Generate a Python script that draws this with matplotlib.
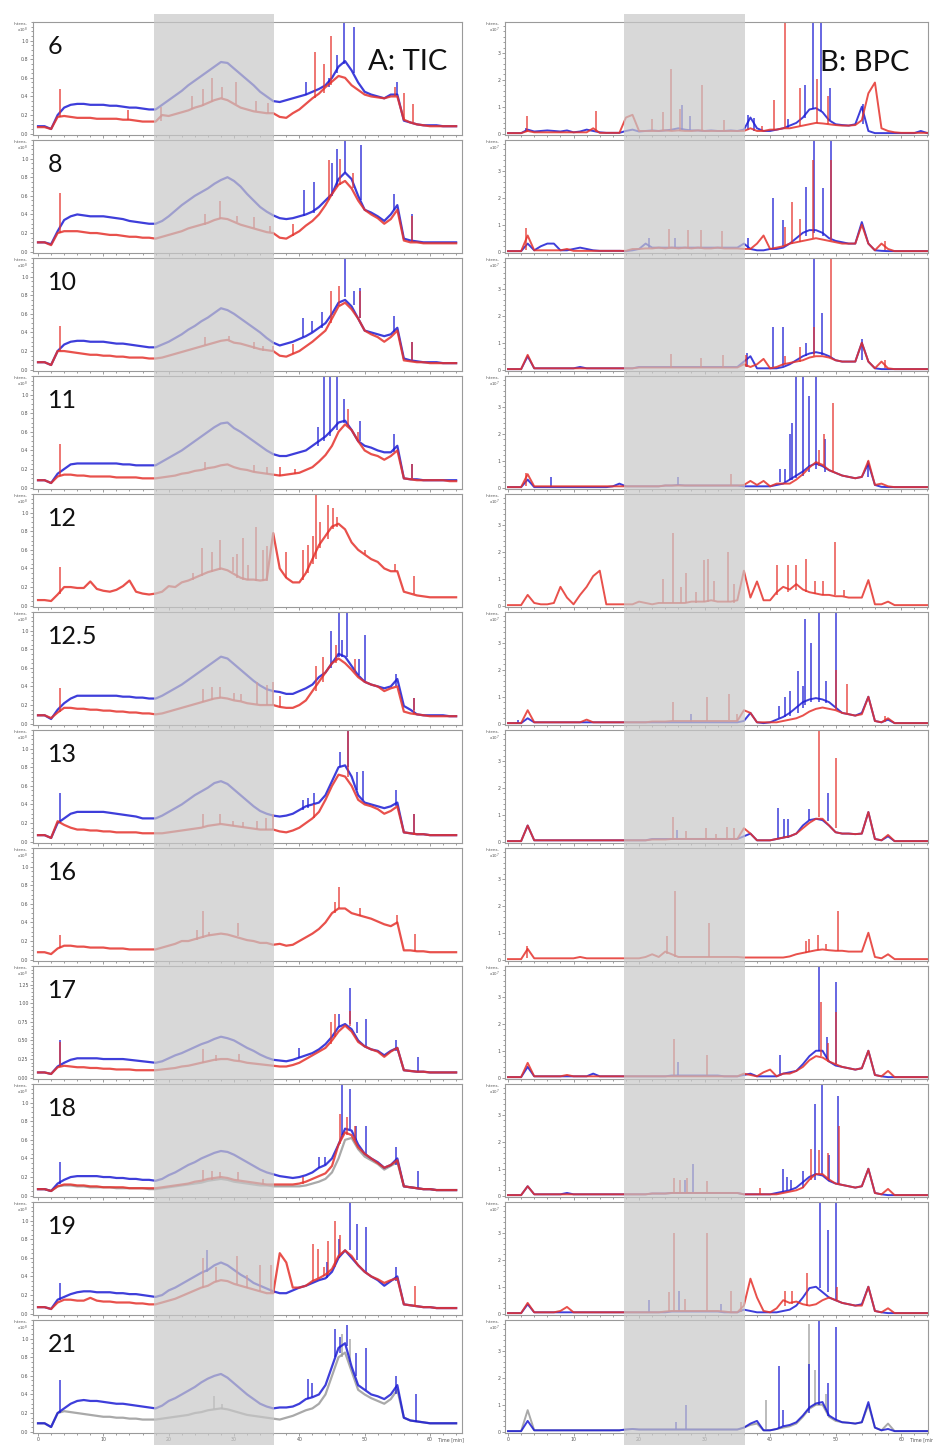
import numpy as np
import matplotlib
matplotlib.use("Agg")
import matplotlib.pyplot as plt
from matplotlib.patches import Rectangle
from matplotlib.ticker import MultipleLocator, FixedLocator, FormatStrFormatter
import matplotlib.transforms as mtransforms

# ---- data: chromatogram baselines on a 1-min grid (0..64 min), peaks as (time, foot, top) ----
# TIC, x10^8
tic6_b = [0.08,0.08,0.05,0.20,0.28,0.31,0.32,0.32,0.31,0.31,
          0.31,0.30,0.30,0.29,0.28,0.28,0.27,0.26,0.26,0.31,
          0.36,0.41,0.46,0.52,0.57,0.62,0.67,0.72,0.77,0.76,
          0.70,0.64,0.58,0.52,0.45,0.40,0.35,0.34,0.36,0.38,
          0.40,0.42,0.45,0.48,0.52,0.60,0.72,0.78,0.68,0.55,
          0.45,0.42,0.40,0.38,0.42,0.42,0.14,0.12,0.10,0.09,
          0.09,0.09,0.08,0.08,0.08]
tic6_r = [0.07,0.07,0.05,0.18,0.19,0.18,0.17,0.17,0.17,0.16,
          0.16,0.16,0.16,0.15,0.15,0.14,0.13,0.13,0.13,0.20,
          0.19,0.21,0.23,0.25,0.28,0.30,0.33,0.36,0.38,0.36,
          0.32,0.28,0.26,0.24,0.23,0.22,0.22,0.18,0.17,0.22,
          0.26,0.32,0.38,0.43,0.50,0.56,0.62,0.60,0.52,0.47,
          0.42,0.40,0.39,0.38,0.40,0.40,0.15,0.12,0.10,0.09,
          0.08,0.08,0.08,0.08,0.08]
tic6_b_pk = [(41.0,0.42,0.56),(44.5,0.50,0.60),(45.8,0.65,0.85),(46.9,0.75,1.2),(48.3,0.65,1.15),(55.0,0.42,0.56)]
tic6_r_pk = [(3.3,0.18,0.48),(13.8,0.15,0.25),(18.8,0.14,0.29),(23.5,0.26,0.40),(25.2,0.30,0.48),(26.6,0.34,0.60),
             (28.2,0.38,0.50),(30.3,0.32,0.55),(33.4,0.24,0.35),(35.2,0.22,0.33),(42.4,0.38,0.88),(43.7,0.44,0.75),
             (44.9,0.52,1.05),(54.6,0.40,0.50),(56.0,0.15,0.44),(57.4,0.12,0.32)]

tic8_b = [0.10,0.10,0.08,0.22,0.34,0.38,0.40,0.39,0.38,0.38,
          0.38,0.37,0.36,0.35,0.33,0.32,0.31,0.30,0.30,0.33,
          0.38,0.44,0.50,0.55,0.60,0.64,0.68,0.73,0.77,0.80,
          0.76,0.70,0.62,0.55,0.48,0.43,0.39,0.36,0.35,0.36,
          0.38,0.40,0.43,0.48,0.55,0.62,0.78,0.85,0.78,0.60,
          0.45,0.42,0.38,0.33,0.40,0.50,0.14,0.12,0.11,0.10,
          0.10,0.10,0.10,0.10,0.10]
tic8_r = [0.10,0.10,0.07,0.20,0.22,0.22,0.22,0.21,0.20,0.20,
          0.19,0.18,0.18,0.17,0.16,0.16,0.15,0.15,0.14,0.16,
          0.18,0.20,0.22,0.25,0.27,0.29,0.31,0.34,0.36,0.35,
          0.32,0.29,0.27,0.25,0.23,0.21,0.20,0.15,0.14,0.18,
          0.22,0.28,0.33,0.40,0.50,0.62,0.72,0.76,0.68,0.55,
          0.45,0.40,0.36,0.30,0.35,0.45,0.12,0.10,0.10,0.09,
          0.09,0.09,0.09,0.09,0.09]
tic8_b_pk = [(40.7,0.38,0.66),(42.2,0.42,0.75),(45.0,0.60,0.95),(45.8,0.70,1.1),(47.0,0.85,1.2),(49.5,0.55,1.15),
             (54.5,0.45,0.62),(57.3,0.11,0.41)]
tic8_r_pk = [(3.4,0.20,0.63),(25.5,0.29,0.40),(27.9,0.35,0.54),(30.5,0.32,0.38),(33.0,0.25,0.37),(35.5,0.21,0.28),
             (39.0,0.17,0.30),(44.6,0.55,0.98),(46.3,0.72,1.0),(48.2,0.68,0.85),(57.3,0.10,0.38)]

tic10_b = [0.08,0.08,0.05,0.20,0.27,0.30,0.31,0.31,0.30,0.30,
           0.30,0.29,0.28,0.28,0.27,0.26,0.25,0.24,0.24,0.27,
           0.30,0.34,0.38,0.43,0.47,0.52,0.56,0.61,0.66,0.64,
           0.60,0.55,0.50,0.45,0.40,0.34,0.29,0.26,0.28,0.30,
           0.33,0.36,0.40,0.45,0.50,0.60,0.72,0.75,0.68,0.55,
           0.42,0.40,0.38,0.36,0.38,0.45,0.12,0.10,0.09,0.08,
           0.08,0.08,0.07,0.07,0.07]
tic10_r = [0.08,0.08,0.05,0.20,0.20,0.19,0.18,0.17,0.16,0.16,
           0.15,0.15,0.14,0.14,0.13,0.13,0.13,0.12,0.12,0.13,
           0.15,0.17,0.19,0.21,0.23,0.25,0.27,0.29,0.31,0.32,
           0.29,0.28,0.26,0.24,0.22,0.21,0.20,0.15,0.14,0.17,
           0.20,0.25,0.30,0.36,0.42,0.55,0.68,0.72,0.65,0.55,
           0.42,0.38,0.35,0.30,0.35,0.42,0.10,0.09,0.08,0.08,
           0.07,0.07,0.07,0.07,0.07]
tic10_b_pk = [(40.5,0.35,0.55),(42.0,0.40,0.52),(43.5,0.45,0.62),(47.0,0.78,1.2),(48.3,0.70,0.85),(49.3,0.55,0.88),
              (54.5,0.40,0.58),(57.3,0.10,0.30)]
tic10_r_pk = [(3.3,0.20,0.47),(25.5,0.26,0.35),(29.2,0.32,0.36),(33.0,0.22,0.30),(34.5,0.20,0.25),(36.0,0.20,0.25),
              (39.0,0.17,0.28),(44.8,0.50,0.85),(46.0,0.68,0.90),(49.3,0.55,0.85),(57.3,0.10,0.30)]

tic11_b = [0.08,0.08,0.05,0.15,0.20,0.25,0.26,0.26,0.26,0.26,
           0.26,0.26,0.26,0.25,0.25,0.24,0.24,0.24,0.24,0.28,
           0.32,0.36,0.40,0.45,0.50,0.55,0.60,0.65,0.69,0.70,
           0.64,0.60,0.55,0.50,0.45,0.40,0.36,0.34,0.34,0.36,
           0.38,0.40,0.45,0.50,0.55,0.62,0.70,0.72,0.62,0.50,
           0.45,0.43,0.40,0.38,0.38,0.45,0.10,0.09,0.09,0.08,
           0.08,0.08,0.08,0.08,0.08]
tic11_r = [0.08,0.08,0.05,0.12,0.14,0.14,0.13,0.13,0.12,0.12,
           0.12,0.12,0.11,0.11,0.11,0.11,0.10,0.10,0.10,0.11,
           0.12,0.13,0.15,0.16,0.18,0.19,0.21,0.22,0.24,0.25,
           0.22,0.20,0.19,0.17,0.16,0.15,0.14,0.13,0.14,0.15,
           0.16,0.19,0.22,0.28,0.35,0.45,0.60,0.68,0.62,0.50,
           0.40,0.36,0.34,0.30,0.34,0.40,0.10,0.09,0.08,0.08,
           0.08,0.08,0.08,0.07,0.07]
tic11_b_pk = [(42.8,0.45,0.65),(43.8,0.50,1.2),(44.7,0.55,1.2),(45.7,0.62,1.2),(46.8,0.70,0.95),(49.3,0.50,0.72),
              (54.5,0.38,0.58),(57.3,0.10,0.25)]
tic11_r_pk = [(3.3,0.12,0.47),(25.5,0.19,0.28),(33.0,0.17,0.24),(35.0,0.15,0.22),(37.0,0.13,0.22),(39.3,0.15,0.20),
              (47.5,0.66,0.85),(49.0,0.50,0.60),(57.3,0.09,0.25)]

tic12_r = [0.06,0.06,0.05,0.12,0.20,0.20,0.19,0.19,0.26,0.18,
           0.16,0.15,0.17,0.21,0.27,0.15,0.13,0.12,0.13,0.15,
           0.21,0.20,0.25,0.27,0.30,0.33,0.36,0.38,0.40,0.38,
           0.34,0.30,0.28,0.28,0.27,0.28,0.78,0.40,0.30,0.25,
           0.25,0.35,0.50,0.65,0.75,0.85,0.88,0.82,0.68,0.60,
           0.55,0.50,0.47,0.40,0.37,0.37,0.15,0.13,0.11,0.10,
           0.09,0.09,0.09,0.09,0.09]
tic12_r_pk = [(3.4,0.12,0.42),(23.7,0.28,0.35),(25.1,0.32,0.62),(26.6,0.36,0.58),(27.9,0.38,0.71),(29.9,0.36,0.52),
              (30.4,0.30,0.55),(31.4,0.28,0.73),(32.2,0.28,0.44),(33.4,0.27,0.85),(34.5,0.26,0.60),(35.0,0.27,0.64),
              (38.0,0.30,0.58),(40.6,0.28,0.60),(41.4,0.35,0.65),(42.1,0.45,0.75),(42.6,0.50,1.19),(43.2,0.62,0.90),
              (44.4,0.72,1.08),(45.2,0.82,1.05),(45.7,0.85,0.95),(50.0,0.55,0.60),(54.6,0.37,0.45),(57.6,0.12,0.32)]

tic125_b = [0.09,0.09,0.05,0.15,0.22,0.27,0.30,0.30,0.30,0.30,
            0.30,0.30,0.30,0.29,0.29,0.28,0.28,0.27,0.27,0.30,
            0.34,0.38,0.42,0.47,0.52,0.57,0.62,0.67,0.72,0.70,
            0.64,0.58,0.52,0.46,0.41,0.37,0.35,0.34,0.32,0.32,
            0.35,0.38,0.42,0.50,0.55,0.65,0.75,0.72,0.62,0.52,
            0.45,0.42,0.40,0.38,0.40,0.48,0.19,0.15,0.10,0.09,
            0.09,0.09,0.09,0.08,0.08]
tic125_r = [0.09,0.09,0.06,0.12,0.17,0.17,0.16,0.16,0.15,0.15,
            0.14,0.14,0.13,0.13,0.12,0.12,0.11,0.11,0.10,0.11,
            0.13,0.15,0.17,0.19,0.21,0.23,0.25,0.27,0.28,0.27,
            0.25,0.24,0.22,0.21,0.20,0.20,0.20,0.18,0.17,0.17,
            0.20,0.25,0.35,0.45,0.55,0.65,0.70,0.65,0.58,0.50,
            0.45,0.42,0.40,0.35,0.38,0.40,0.13,0.11,0.10,0.09,
            0.08,0.08,0.08,0.08,0.08]
tic125_b_pk = [(44.9,0.60,1.0),(46.0,0.72,1.2),(46.6,0.72,0.90),(47.3,0.72,1.2),(49.2,0.52,0.70),(50.0,0.45,0.95),
               (54.8,0.40,0.53),(57.6,0.15,0.28)]
tic125_r_pk = [(3.4,0.12,0.38),(25.3,0.23,0.37),(26.6,0.25,0.39),(27.9,0.28,0.39),(30.0,0.25,0.33),(31.0,0.24,0.32),
               (33.5,0.21,0.45),(35.0,0.20,0.42),(36.0,0.20,0.45),(37.0,0.18,0.30),(42.6,0.35,0.62),(43.6,0.45,0.72),
               (45.6,0.65,0.85),(48.5,0.55,0.70),(57.6,0.10,0.28)]

tic13_b = [0.07,0.07,0.04,0.20,0.25,0.30,0.32,0.32,0.32,0.32,
           0.32,0.31,0.30,0.29,0.28,0.27,0.25,0.25,0.25,0.28,
           0.32,0.36,0.40,0.45,0.50,0.54,0.58,0.63,0.65,0.62,
           0.56,0.50,0.44,0.38,0.33,0.30,0.28,0.27,0.28,0.30,
           0.34,0.38,0.40,0.42,0.50,0.65,0.80,0.82,0.70,0.50,
           0.42,0.40,0.38,0.36,0.38,0.42,0.10,0.09,0.08,0.08,
           0.07,0.07,0.07,0.07,0.07]
tic13_r = [0.07,0.07,0.04,0.22,0.18,0.15,0.13,0.13,0.12,0.12,
           0.11,0.11,0.10,0.10,0.10,0.10,0.09,0.09,0.09,0.09,
           0.10,0.11,0.12,0.13,0.14,0.15,0.17,0.18,0.19,0.18,
           0.17,0.16,0.15,0.14,0.13,0.13,0.13,0.11,0.10,0.12,
           0.15,0.20,0.25,0.32,0.45,0.60,0.72,0.70,0.60,0.45,
           0.40,0.38,0.35,0.30,0.33,0.38,0.10,0.09,0.08,0.08,
           0.07,0.07,0.07,0.07,0.07]
tic13_b_pk = [(3.3,0.20,0.52),(40.5,0.34,0.45),(41.3,0.36,0.47),(42.3,0.40,0.52),(46.3,0.80,0.96),(47.4,0.80,1.2),
              (48.9,0.55,0.75),(49.8,0.45,0.76),(54.8,0.38,0.55),(57.6,0.08,0.30)]
tic13_r_pk = [(25.2,0.16,0.30),(27.9,0.19,0.30),(29.8,0.17,0.22),(31.4,0.16,0.21),(33.5,0.14,0.22),(34.9,0.13,0.25),
              (35.9,0.13,0.30),(42.3,0.25,0.40),(47.4,0.70,1.2),(57.6,0.07,0.30)]

tic16_r = [0.08,0.08,0.06,0.12,0.15,0.15,0.14,0.14,0.13,0.13,
           0.13,0.12,0.12,0.12,0.11,0.11,0.11,0.11,0.11,0.13,
           0.15,0.17,0.20,0.20,0.22,0.24,0.26,0.27,0.28,0.27,
           0.25,0.23,0.21,0.20,0.18,0.18,0.16,0.17,0.15,0.16,
           0.20,0.24,0.28,0.33,0.40,0.50,0.55,0.55,0.50,0.48,
           0.46,0.44,0.41,0.38,0.36,0.40,0.10,0.10,0.09,0.09,
           0.08,0.08,0.08,0.08,0.08]
tic16_r_pk = [(3.3,0.12,0.27),(24.3,0.21,0.32),(25.2,0.23,0.52),(26.2,0.25,0.30),(30.6,0.25,0.39),(45.4,0.50,0.62),
              (46.1,0.55,0.78),(49.3,0.47,0.55),(55.0,0.38,0.48),(57.7,0.09,0.28)]

tic17_b = [0.07,0.07,0.05,0.15,0.20,0.24,0.26,0.26,0.26,0.26,
           0.25,0.25,0.25,0.25,0.24,0.23,0.22,0.21,0.20,0.22,
           0.26,0.30,0.33,0.37,0.41,0.45,0.48,0.52,0.55,0.53,
           0.50,0.45,0.40,0.36,0.31,0.27,0.24,0.23,0.22,0.24,
           0.27,0.30,0.33,0.38,0.45,0.55,0.68,0.72,0.65,0.50,
           0.42,0.38,0.36,0.30,0.36,0.40,0.10,0.09,0.08,0.08,
           0.07,0.07,0.07,0.07,0.07]
tic17_r = [0.07,0.07,0.05,0.14,0.16,0.15,0.14,0.14,0.13,0.13,
           0.12,0.12,0.11,0.11,0.11,0.10,0.10,0.10,0.10,0.11,
           0.12,0.13,0.15,0.16,0.18,0.20,0.22,0.24,0.25,0.25,
           0.23,0.22,0.20,0.19,0.18,0.17,0.16,0.15,0.15,0.17,
           0.20,0.25,0.30,0.35,0.40,0.50,0.62,0.70,0.62,0.48,
           0.42,0.38,0.35,0.28,0.35,0.40,0.10,0.09,0.08,0.08,
           0.07,0.07,0.07,0.07,0.07]
tic17_b_pk = [(3.3,0.15,0.50),(40.0,0.27,0.40),(46.0,0.68,0.85),(47.7,0.72,1.21),(48.8,0.60,0.75),(50.2,0.42,0.79),
              (54.8,0.36,0.50),(58.2,0.08,0.28)]
tic17_r_pk = [(3.4,0.14,0.48),(25.3,0.20,0.38),(27.3,0.23,0.30),(30.7,0.23,0.32),(44.8,0.45,0.75),(45.5,0.55,0.85),
              (47.8,0.70,0.90)]

tic18_b = [0.07,0.07,0.05,0.13,0.17,0.20,0.21,0.21,0.21,0.21,
           0.20,0.20,0.19,0.19,0.18,0.18,0.17,0.17,0.16,0.18,
           0.22,0.25,0.29,0.33,0.36,0.40,0.43,0.46,0.48,0.47,
           0.44,0.40,0.36,0.32,0.28,0.25,0.23,0.21,0.20,0.19,
           0.20,0.22,0.25,0.30,0.33,0.40,0.55,0.72,0.70,0.55,
           0.45,0.40,0.36,0.30,0.33,0.40,0.10,0.09,0.08,0.07,
           0.07,0.06,0.06,0.06,0.06]
tic18_r = [0.07,0.07,0.05,0.10,0.12,0.12,0.11,0.11,0.10,0.10,
           0.09,0.09,0.09,0.09,0.08,0.08,0.08,0.08,0.08,0.09,
           0.10,0.11,0.12,0.13,0.15,0.16,0.18,0.19,0.20,0.19,
           0.17,0.16,0.15,0.14,0.13,0.12,0.12,0.12,0.12,0.12,
           0.13,0.15,0.18,0.21,0.24,0.32,0.55,0.68,0.65,0.52,
           0.45,0.40,0.35,0.30,0.33,0.38,0.10,0.09,0.08,0.07,
           0.07,0.06,0.06,0.06,0.06]
tic18_g = [0.07,0.07,0.05,0.10,0.11,0.11,0.10,0.10,0.09,0.09,
           0.09,0.09,0.08,0.08,0.08,0.08,0.08,0.07,0.07,0.08,
           0.09,0.10,0.11,0.12,0.13,0.14,0.16,0.17,0.18,0.17,
           0.15,0.14,0.13,0.12,0.11,0.11,0.10,0.10,0.10,0.10,
           0.10,0.11,0.13,0.15,0.18,0.25,0.40,0.60,0.62,0.50,
           0.42,0.38,0.34,0.28,0.32,0.36,0.10,0.09,0.08,0.07,
           0.07,0.06,0.06,0.06,0.06]
tic18_b_pk = [(3.3,0.13,0.36),(43.0,0.30,0.42),(44.0,0.33,0.42),(46.6,0.65,1.2),(47.7,0.72,1.15),(48.7,0.60,0.75),
              (50.2,0.45,0.75),(54.8,0.33,0.52),(58.2,0.07,0.27)]
tic18_r_pk = [(25.3,0.16,0.28),(26.6,0.17,0.26),(27.9,0.19,0.25),(30.6,0.17,0.25),(34.5,0.13,0.18),(40.5,0.13,0.20),
              (46.3,0.55,0.88),(47.3,0.65,0.85),(48.5,0.60,0.75)]
tic18_g_pk = []

tic19_b = [0.07,0.07,0.05,0.15,0.18,0.21,0.23,0.24,0.24,0.23,
           0.23,0.23,0.22,0.22,0.21,0.21,0.20,0.19,0.18,0.20,
           0.25,0.28,0.32,0.36,0.40,0.44,0.47,0.52,0.55,0.52,
           0.47,0.42,0.38,0.33,0.30,0.27,0.24,0.22,0.22,0.25,
           0.28,0.30,0.33,0.36,0.38,0.45,0.60,0.68,0.60,0.52,
           0.45,0.40,0.36,0.30,0.35,0.40,0.10,0.09,0.08,0.07,
           0.07,0.06,0.06,0.06,0.06]
tic19_r = [0.07,0.07,0.05,0.12,0.15,0.15,0.14,0.14,0.17,0.14,
           0.13,0.13,0.12,0.12,0.12,0.11,0.11,0.10,0.10,0.12,
           0.14,0.16,0.19,0.22,0.25,0.28,0.30,0.34,0.36,0.35,
           0.32,0.30,0.28,0.26,0.24,0.22,0.22,0.65,0.55,0.28,
           0.28,0.30,0.35,0.38,0.42,0.48,0.62,0.68,0.62,0.52,
           0.45,0.40,0.37,0.33,0.36,0.38,0.10,0.09,0.08,0.07,
           0.07,0.06,0.06,0.06,0.06]
tic19_b_pk = [(3.3,0.15,0.33),(25.8,0.45,0.68),(44.3,0.38,0.55),(46.0,0.60,0.80),(47.7,0.68,1.2),(48.9,0.58,0.96),
              (50.2,0.45,0.93),(54.8,0.35,0.50)]
tic19_r_pk = [(25.3,0.28,0.60),(27.2,0.34,0.50),(30.4,0.32,0.62),(32.0,0.28,0.42),(34.0,0.24,0.52),(35.6,0.22,0.52),
              (42.1,0.35,0.75),(42.9,0.38,0.70),(43.7,0.40,0.50),(44.4,0.42,0.78),(45.5,0.50,1.0),(46.2,0.62,0.85),
              (57.7,0.08,0.30)]

tic21_b = [0.09,0.09,0.05,0.20,0.25,0.30,0.33,0.34,0.33,0.33,
           0.32,0.31,0.30,0.30,0.29,0.28,0.27,0.26,0.25,0.28,
           0.33,0.36,0.40,0.44,0.48,0.53,0.57,0.60,0.62,0.58,
           0.52,0.46,0.40,0.35,0.30,0.27,0.25,0.26,0.26,0.27,
           0.30,0.35,0.37,0.40,0.50,0.70,0.90,0.95,0.70,0.50,
           0.45,0.40,0.38,0.35,0.40,0.50,0.15,0.12,0.11,0.10,
           0.09,0.09,0.09,0.09,0.09]
tic21_g = [0.09,0.09,0.05,0.20,0.22,0.21,0.20,0.19,0.18,0.17,
           0.16,0.16,0.15,0.15,0.14,0.14,0.13,0.13,0.13,0.14,
           0.15,0.16,0.17,0.18,0.20,0.21,0.23,0.24,0.25,0.24,
           0.22,0.20,0.18,0.17,0.16,0.15,0.14,0.13,0.15,0.17,
           0.20,0.23,0.25,0.30,0.40,0.60,0.80,0.85,0.65,0.45,
           0.40,0.36,0.33,0.30,0.35,0.45,0.15,0.12,0.11,0.10,
           0.09,0.09,0.09,0.09,0.09]
tic21_b_pk = [(3.4,0.20,0.55),(41.3,0.35,0.57),(42.0,0.37,0.52),(45.5,0.80,1.1),(46.2,0.85,1.02),(47.3,0.92,1.15),
              (48.7,0.60,0.85),(50.2,0.45,0.90),(54.8,0.40,0.60),(57.8,0.10,0.40)]
tic21_g_pk = [(26.9,0.24,0.38),(28.2,0.24,0.30),(46.5,0.80,1.05),(47.8,0.75,1.0)]

# BPC, x10^7
bpc6_b = [0.02,0.02,0.02,0.15,0.08,0.10,0.12,0.10,0.08,0.12,
          0.05,0.08,0.15,0.10,0.05,0.03,0.03,0.03,0.10,0.15,
          0.08,0.10,0.12,0.10,0.12,0.15,0.20,0.15,0.12,0.12,
          0.10,0.12,0.10,0.10,0.12,0.10,0.15,0.60,0.20,0.10,
          0.10,0.15,0.20,0.30,0.40,0.60,0.90,0.95,0.80,0.50,
          0.35,0.32,0.30,0.35,1.00,0.10,0.02,0.02,0.02,0.02,
          0.02,0.02,0.02,0.10,0.02]
bpc6_r = [0.02,0.02,0.02,0.10,0.05,0.05,0.05,0.05,0.05,0.05,
          0.05,0.05,0.05,0.20,0.03,0.03,0.03,0.03,0.60,0.70,
          0.10,0.10,0.10,0.10,0.12,0.10,0.12,0.10,0.10,0.12,
          0.10,0.10,0.10,0.10,0.10,0.10,0.10,0.20,0.10,0.10,
          0.15,0.15,0.20,0.20,0.25,0.30,0.35,0.40,0.38,0.35,
          0.32,0.30,0.30,0.32,0.50,1.50,1.90,0.20,0.10,0.05,
          0.03,0.03,0.03,0.03,0.03]
bpc6_b_pk = [(2.8,0.05,0.20),(26.6,0.15,1.05),(27.7,0.12,0.65),(36.6,0.15,0.70),(37.5,0.10,0.60),(42.8,0.20,0.55),
             (45.3,0.60,1.8),(46.6,0.90,4.2),(47.8,0.85,4.2),(49.1,0.50,1.7),(54.2,0.35,1.1)]
bpc6_r_pk = [(2.9,0.05,0.64),(13.4,0.05,0.86),(22.0,0.10,0.55),(23.6,0.10,0.80),(24.8,0.10,2.4),(26.3,0.10,0.90),
             (29.6,0.10,1.8),(33.0,0.10,0.50),(38.8,0.10,0.30),(40.6,0.15,1.25),(42.3,0.20,4.2),(44.5,0.30,1.7),
             (47.1,0.40,2.05),(48.8,0.35,1.4)]

bpc8_b = [0.02,0.02,0.02,0.30,0.05,0.20,0.30,0.30,0.05,0.05,
          0.10,0.15,0.10,0.05,0.03,0.03,0.03,0.03,0.02,0.05,
          0.10,0.30,0.15,0.15,0.15,0.15,0.15,0.15,0.15,0.15,
          0.15,0.15,0.15,0.15,0.15,0.15,0.30,0.10,0.05,0.05,
          0.10,0.10,0.15,0.30,0.50,0.70,0.80,0.80,0.70,0.50,
          0.40,0.35,0.30,0.30,1.10,0.30,0.05,0.03,0.02,0.02,
          0.02,0.02,0.02,0.02,0.02]
bpc8_r = [0.02,0.02,0.02,0.60,0.05,0.05,0.05,0.05,0.05,0.10,
          0.03,0.03,0.03,0.03,0.03,0.03,0.03,0.03,0.03,0.10,
          0.10,0.12,0.12,0.15,0.12,0.15,0.12,0.15,0.12,0.15,
          0.12,0.12,0.15,0.12,0.12,0.12,0.10,0.10,0.30,0.60,
          0.10,0.15,0.20,0.30,0.35,0.40,0.45,0.50,0.45,0.40,
          0.35,0.30,0.30,0.30,1.00,0.30,0.05,0.30,0.10,0.02,
          0.02,0.02,0.02,0.02,0.02]
bpc8_b_pk = [(21.5,0.15,0.50),(25.5,0.15,0.50),(36.6,0.10,0.50),(40.5,0.10,1.98),(41.9,0.20,1.16),(45.5,0.60,2.4),
             (46.7,0.70,4.2),(48.0,0.60,2.35),(49.3,0.50,4.2)]
bpc8_r_pk = [(2.8,0.05,0.87),(24.6,0.15,0.85),(27.5,0.15,0.80),(29.4,0.15,0.80),(32.7,0.15,0.75),(42.3,0.20,0.90),
             (43.3,0.30,1.85),(44.5,0.35,1.2),(46.6,0.50,3.4),(49.3,0.40,3.4),(57.6,0.05,0.40)]

bpc10_b = [0.02,0.02,0.02,0.50,0.05,0.05,0.05,0.05,0.05,0.05,
           0.05,0.10,0.05,0.05,0.05,0.05,0.05,0.05,0.05,0.05,
           0.10,0.10,0.10,0.10,0.10,0.10,0.10,0.10,0.10,0.10,
           0.10,0.10,0.10,0.10,0.10,0.10,0.30,0.50,0.05,0.05,
           0.05,0.05,0.10,0.20,0.35,0.50,0.60,0.65,0.60,0.50,
           0.35,0.30,0.30,0.30,1.00,0.30,0.05,0.02,0.02,0.02,
           0.02,0.02,0.02,0.02,0.02]
bpc10_r = [0.02,0.02,0.02,0.55,0.05,0.05,0.05,0.05,0.05,0.05,
           0.05,0.05,0.05,0.05,0.05,0.05,0.05,0.05,0.05,0.05,
           0.08,0.08,0.08,0.08,0.08,0.08,0.08,0.08,0.08,0.08,
           0.08,0.08,0.08,0.08,0.08,0.08,0.20,0.10,0.20,0.40,
           0.05,0.10,0.20,0.25,0.30,0.35,0.45,0.50,0.50,0.45,
           0.35,0.30,0.30,0.30,1.00,0.30,0.05,0.30,0.05,0.02,
           0.02,0.02,0.02,0.02,0.02]
bpc10_b_pk = [(36.5,0.10,0.62),(40.5,0.10,1.6),(41.9,0.15,1.6),(45.5,0.50,1.0),(46.7,0.60,4.2),(47.9,0.55,2.1),
              (54.1,0.35,1.15)]
bpc10_r_pk = [(24.8,0.08,0.60),(29.4,0.08,0.45),(32.8,0.08,0.55),(36.3,0.10,0.55),(42.3,0.20,0.50),(44.5,0.30,0.85),
              (46.7,0.50,1.6),(49.3,0.45,4.2),(57.6,0.05,0.35)]

bpc11_b = [0.02,0.02,0.02,0.30,0.02,0.02,0.02,0.02,0.02,0.02,
           0.02,0.02,0.02,0.02,0.02,0.02,0.05,0.15,0.05,0.05,
           0.05,0.05,0.05,0.05,0.08,0.08,0.10,0.08,0.08,0.08,
           0.08,0.08,0.08,0.08,0.08,0.08,0.05,0.05,0.05,0.05,
           0.05,0.10,0.15,0.30,0.45,0.60,0.80,0.90,0.80,0.65,
           0.55,0.45,0.40,0.35,0.40,0.90,0.10,0.03,0.02,0.02,
           0.02,0.02,0.02,0.02,0.02]
bpc11_r = [0.02,0.02,0.02,0.50,0.05,0.05,0.05,0.05,0.05,0.05,
           0.05,0.05,0.05,0.05,0.05,0.05,0.05,0.05,0.05,0.05,
           0.05,0.05,0.05,0.05,0.08,0.08,0.08,0.08,0.08,0.08,
           0.08,0.08,0.08,0.08,0.08,0.08,0.10,0.25,0.10,0.25,
           0.05,0.15,0.15,0.15,0.30,0.50,0.75,0.95,0.85,0.65,
           0.55,0.45,0.40,0.35,0.40,1.00,0.10,0.15,0.05,0.02,
           0.02,0.02,0.02,0.02,0.02]
bpc11_b_pk = [(6.6,0.02,0.41),(26.0,0.10,0.40),(41.5,0.20,0.70),(42.3,0.20,0.70),(43.1,0.30,2.0),(43.4,0.30,2.4),
              (44.0,0.35,4.2),(45.0,0.45,4.2),(46.0,0.60,3.4),(47.0,0.70,4.2),(48.4,0.60,1.8),(55.0,0.40,1.0)]
bpc11_r_pk = [(2.8,0.05,0.54),(34.0,0.05,0.50),(47.5,0.80,1.4),(48.2,0.80,2.0),(49.6,0.60,3.16)]

bpc12_r = [0.02,0.02,0.02,0.40,0.10,0.05,0.05,0.10,0.70,0.30,
           0.05,0.40,0.70,1.10,1.30,0.05,0.05,0.05,0.05,0.05,
           0.15,0.10,0.05,0.10,0.10,0.10,0.10,0.10,0.15,0.15,
           0.15,0.20,0.15,0.15,0.15,0.20,1.30,0.30,0.90,0.20,
           0.20,0.50,0.70,0.60,0.80,0.60,0.50,0.45,0.40,0.40,
           0.35,0.35,0.30,0.30,0.30,0.95,0.05,0.05,0.15,0.02,
           0.02,0.02,0.02,0.02,0.02]
bpc12_r_pk = [(23.7,0.10,1.0),(25.2,0.10,2.7),(26.4,0.10,0.70),(27.1,0.10,1.2),(28.7,0.10,0.50),(29.9,0.15,1.7),
              (30.5,0.15,1.75),(31.4,0.20,0.90),(33.6,0.15,2.0),(34.5,0.10,0.80),(41.0,0.40,1.5),(42.7,0.50,1.5),
              (44.0,0.60,1.5),(45.5,0.50,1.75),(46.8,0.45,0.90),(48.0,0.40,0.90),(49.9,0.40,2.38),(51.3,0.35,0.60)]

bpc125_b = [0.02,0.02,0.02,0.20,0.05,0.05,0.05,0.05,0.05,0.05,
            0.05,0.05,0.05,0.05,0.05,0.05,0.05,0.05,0.05,0.05,
            0.05,0.05,0.05,0.05,0.05,0.05,0.05,0.05,0.05,0.05,
            0.05,0.05,0.05,0.05,0.05,0.05,0.10,0.40,0.05,0.02,
            0.05,0.15,0.25,0.40,0.60,0.80,0.90,0.95,0.90,0.80,
            0.60,0.40,0.35,0.30,0.40,1.00,0.10,0.05,0.15,0.02,
            0.02,0.02,0.02,0.02,0.02]
bpc125_r = [0.02,0.02,0.02,0.50,0.05,0.05,0.05,0.05,0.05,0.05,
            0.05,0.05,0.15,0.05,0.05,0.05,0.05,0.05,0.05,0.05,
            0.05,0.05,0.08,0.08,0.08,0.10,0.10,0.10,0.10,0.10,
            0.10,0.10,0.10,0.10,0.10,0.10,0.50,0.40,0.05,0.05,
            0.05,0.05,0.10,0.15,0.20,0.30,0.45,0.55,0.60,0.55,
            0.50,0.40,0.35,0.30,0.35,1.00,0.10,0.05,0.20,0.02,
            0.02,0.02,0.02,0.02,0.02]
bpc125_b_pk = [(1.5,0.02,0.15),(28.0,0.05,0.35),(41.3,0.20,0.65),(42.3,0.25,1.0),(43.0,0.30,1.2),(44.2,0.40,1.94),
               (45.0,0.60,1.4),(45.3,0.70,3.9),(46.3,0.80,3.0),(47.4,0.80,4.2),(48.6,0.75,1.6),(50.0,0.60,4.2)]
bpc125_r_pk = [(25.2,0.10,0.80),(30.4,0.10,1.0),(33.7,0.15,1.09),(35.0,0.10,0.35),(50.0,0.50,2.0),(51.7,0.40,1.46),
               (57.6,0.05,0.30)]

bpc13_b = [0.02,0.02,0.02,0.60,0.05,0.05,0.05,0.05,0.05,0.05,
           0.05,0.05,0.05,0.05,0.05,0.05,0.05,0.05,0.05,0.05,
           0.05,0.05,0.10,0.10,0.10,0.10,0.10,0.10,0.10,0.10,
           0.10,0.10,0.10,0.10,0.10,0.10,0.20,0.30,0.05,0.05,
           0.05,0.10,0.15,0.20,0.30,0.60,0.80,0.85,0.80,0.60,
           0.35,0.30,0.30,0.28,0.30,1.10,0.10,0.05,0.20,0.02,
           0.02,0.02,0.02,0.02,0.02]
bpc13_r = [0.02,0.02,0.02,0.60,0.05,0.05,0.05,0.05,0.05,0.05,
           0.05,0.05,0.05,0.05,0.05,0.05,0.05,0.05,0.05,0.05,
           0.05,0.05,0.08,0.08,0.08,0.10,0.10,0.10,0.10,0.10,
           0.10,0.10,0.10,0.10,0.10,0.10,0.50,0.30,0.05,0.05,
           0.05,0.10,0.15,0.20,0.30,0.50,0.70,0.85,0.85,0.60,
           0.35,0.30,0.30,0.28,0.30,1.10,0.10,0.05,0.25,0.02,
           0.02,0.02,0.02,0.02,0.02]
bpc13_b_pk = [(25.8,0.10,0.45),(41.2,0.10,1.24),(42.1,0.15,0.85),(42.8,0.15,0.85),(46.0,0.80,1.2),(48.8,0.75,1.8)]
bpc13_r_pk = [(25.2,0.10,0.93),(27.1,0.10,0.40),(30.2,0.10,0.50),(31.7,0.10,0.30),(33.4,0.10,0.55),(34.5,0.10,0.50),
              (47.5,0.90,4.2),(50.1,0.50,3.1)]

bpc16_r = [0.02,0.02,0.02,0.40,0.05,0.05,0.05,0.05,0.05,0.05,
           0.05,0.10,0.05,0.05,0.05,0.05,0.05,0.05,0.05,0.05,
           0.05,0.10,0.20,0.10,0.30,0.20,0.10,0.10,0.10,0.10,
           0.10,0.10,0.10,0.10,0.10,0.10,0.08,0.08,0.08,0.08,
           0.08,0.08,0.08,0.12,0.20,0.25,0.30,0.35,0.38,0.35,
           0.33,0.33,0.30,0.30,0.30,1.00,0.10,0.05,0.20,0.02,
           0.02,0.02,0.02,0.02,0.02]
bpc16_r_pk = [(2.95,0.05,0.52),(24.2,0.20,0.89),(25.5,0.10,2.55),(30.6,0.10,1.38),(45.5,0.25,0.70),(46.0,0.30,0.75),
              (47.3,0.35,0.90),(48.5,0.38,0.60),(50.3,0.33,1.81)]

bpc17_b = [0.02,0.02,0.02,0.40,0.05,0.05,0.05,0.05,0.05,0.05,
           0.05,0.05,0.05,0.15,0.05,0.05,0.05,0.05,0.05,0.05,
           0.05,0.05,0.05,0.05,0.05,0.08,0.08,0.08,0.08,0.08,
           0.08,0.08,0.08,0.05,0.05,0.05,0.10,0.15,0.05,0.05,
           0.05,0.05,0.15,0.20,0.25,0.50,0.80,1.00,1.00,0.60,
           0.45,0.40,0.35,0.30,0.35,1.00,0.10,0.05,0.02,0.02,
           0.02,0.02,0.02,0.02,0.02]
bpc17_r = [0.02,0.02,0.02,0.55,0.05,0.05,0.05,0.05,0.05,0.10,
           0.05,0.05,0.05,0.05,0.05,0.05,0.05,0.05,0.05,0.05,
           0.05,0.05,0.05,0.05,0.05,0.05,0.05,0.05,0.05,0.05,
           0.05,0.05,0.05,0.05,0.05,0.05,0.15,0.10,0.05,0.20,
           0.30,0.05,0.15,0.15,0.25,0.40,0.65,0.80,0.75,0.60,
           0.50,0.40,0.35,0.30,0.35,1.00,0.10,0.05,0.25,0.02,
           0.02,0.02,0.02,0.02,0.02]
bpc17_b_pk = [(26.0,0.10,0.60),(41.5,0.10,0.85),(47.5,1.00,4.2),(48.7,0.70,1.5),(50.0,0.50,3.56)]
bpc17_r_pk = [(25.3,0.10,1.42),(30.4,0.10,0.84),(47.7,0.80,2.8),(48.8,0.60,1.3),(50.0,0.50,2.45)]

bpc18_b = [0.02,0.02,0.02,0.35,0.05,0.05,0.05,0.05,0.05,0.10,
           0.05,0.05,0.05,0.05,0.05,0.05,0.05,0.05,0.05,0.05,
           0.05,0.05,0.08,0.08,0.08,0.10,0.10,0.10,0.10,0.10,
           0.10,0.10,0.10,0.10,0.10,0.10,0.05,0.05,0.05,0.05,
           0.05,0.10,0.15,0.20,0.30,0.50,0.70,0.80,0.75,0.55,
           0.45,0.40,0.35,0.30,0.35,1.00,0.10,0.05,0.02,0.02,
           0.02,0.02,0.02,0.02,0.02]
bpc18_r = [0.02,0.02,0.02,0.35,0.05,0.05,0.05,0.05,0.05,0.05,
           0.05,0.05,0.05,0.05,0.05,0.05,0.05,0.05,0.05,0.05,
           0.05,0.05,0.08,0.08,0.08,0.10,0.10,0.10,0.10,0.10,
           0.10,0.10,0.10,0.10,0.10,0.10,0.05,0.05,0.05,0.05,
           0.05,0.05,0.10,0.15,0.20,0.30,0.60,0.80,0.80,0.60,
           0.45,0.40,0.35,0.30,0.35,1.00,0.10,0.05,0.25,0.02,
           0.02,0.02,0.02,0.02,0.02]
bpc18_b_pk = [(27.0,0.10,0.60),(28.2,0.10,1.16),(42.0,0.15,1.0),(42.6,0.20,0.70),(43.2,0.20,0.60),(45.0,0.30,0.90),
              (46.8,0.60,3.4),(47.9,0.80,4.2),(49.0,0.55,1.5),(50.4,0.45,3.7)]
bpc18_r_pk = [(25.4,0.10,0.65),(26.2,0.10,0.60),(27.3,0.10,0.65),(30.3,0.10,0.55),(38.5,0.05,0.30),(46.3,0.60,1.75),
              (47.5,0.80,1.7),(48.8,0.60,1.6),(50.5,0.45,2.6)]

bpc19_b = [0.02,0.02,0.02,0.35,0.05,0.05,0.05,0.05,0.05,0.05,
           0.05,0.05,0.05,0.05,0.05,0.05,0.05,0.05,0.05,0.05,
           0.05,0.05,0.05,0.05,0.05,0.08,0.08,0.08,0.08,0.08,
           0.08,0.08,0.08,0.05,0.05,0.05,0.15,0.10,0.05,0.05,
           0.05,0.05,0.10,0.15,0.30,0.60,0.95,1.00,0.80,0.60,
           0.50,0.40,0.35,0.30,0.35,1.00,0.10,0.05,0.02,0.02,
           0.02,0.02,0.02,0.02,0.02]
bpc19_r = [0.02,0.02,0.02,0.40,0.05,0.05,0.05,0.05,0.10,0.25,
           0.05,0.05,0.05,0.05,0.05,0.05,0.05,0.05,0.05,0.05,
           0.05,0.05,0.05,0.05,0.08,0.10,0.10,0.10,0.10,0.10,
           0.10,0.10,0.10,0.08,0.05,0.05,0.30,1.30,0.60,0.10,
           0.05,0.20,0.50,0.40,0.45,0.35,0.30,0.35,0.50,0.60,
           0.50,0.40,0.35,0.30,0.30,1.00,0.10,0.05,0.20,0.02,
           0.02,0.02,0.02,0.02,0.02]
bpc19_b_pk = [(21.5,0.05,0.50),(26.1,0.10,0.83),(32.5,0.05,0.35),(47.6,0.95,4.2),(48.8,0.80,3.1),(50.1,0.50,4.2)]
bpc19_r_pk = [(24.5,0.10,0.80),(25.4,0.10,3.0),(27.0,0.10,0.55),(30.4,0.10,3.0),(34.1,0.05,0.86),(35.5,0.05,0.45),
              (42.2,0.30,0.85),(43.4,0.35,0.85),(45.7,0.30,1.5),(50.2,0.50,1.0)]

bpc21_b = [0.02,0.02,0.02,0.40,0.05,0.05,0.05,0.05,0.05,0.05,
           0.05,0.05,0.05,0.05,0.05,0.05,0.05,0.05,0.08,0.10,
           0.08,0.08,0.08,0.08,0.08,0.08,0.08,0.08,0.08,0.08,
           0.08,0.08,0.08,0.08,0.08,0.08,0.15,0.30,0.40,0.05,
           0.05,0.10,0.20,0.25,0.35,0.60,0.90,1.05,1.10,0.60,
           0.45,0.35,0.33,0.30,0.35,1.10,0.15,0.05,0.10,0.02,
           0.02,0.02,0.02,0.02,0.02]
bpc21_g = [0.02,0.02,0.02,0.80,0.05,0.05,0.05,0.05,0.05,0.05,
           0.05,0.05,0.05,0.05,0.05,0.05,0.05,0.05,0.08,0.10,
           0.08,0.08,0.08,0.08,0.08,0.08,0.08,0.08,0.08,0.08,
           0.08,0.08,0.08,0.08,0.08,0.08,0.15,0.25,0.30,0.05,
           0.05,0.10,0.15,0.20,0.30,0.55,0.85,1.00,1.00,0.55,
           0.40,0.35,0.33,0.30,0.35,1.00,0.15,0.05,0.30,0.02,
           0.02,0.02,0.02,0.02,0.02]
bpc21_b_pk = [(25.6,0.10,0.35),(27.1,0.10,1.0),(41.4,0.15,2.44),(42.0,0.20,0.80),(46.0,0.70,2.5),(47.5,1.00,4.2),
              (48.9,0.60,1.8),(50.1,0.45,3.9)]
bpc21_g_pk = [(39.3,0.10,1.19),(46.0,0.80,4.0),(46.9,0.95,2.3),(48.5,0.80,1.4)]

samples = ["6", "8", "10", "11", "12", "12.5", "13", "16", "17", "18", "19", "21"]

BLUE = "#1c1cd4"
RED = "#e5322c"
GRAY = "#9a9a9a"

rows = [
    ([(tic6_b, tic6_b_pk, BLUE), (tic6_r, tic6_r_pk, RED)],
     [(bpc6_b, bpc6_b_pk, BLUE), (bpc6_r, bpc6_r_pk, RED)]),
    ([(tic8_b, tic8_b_pk, BLUE), (tic8_r, tic8_r_pk, RED)],
     [(bpc8_b, bpc8_b_pk, BLUE), (bpc8_r, bpc8_r_pk, RED)]),
    ([(tic10_b, tic10_b_pk, BLUE), (tic10_r, tic10_r_pk, RED)],
     [(bpc10_b, bpc10_b_pk, BLUE), (bpc10_r, bpc10_r_pk, RED)]),
    ([(tic11_b, tic11_b_pk, BLUE), (tic11_r, tic11_r_pk, RED)],
     [(bpc11_b, bpc11_b_pk, BLUE), (bpc11_r, bpc11_r_pk, RED)]),
    ([(tic12_r, tic12_r_pk, RED)],
     [(bpc12_r, bpc12_r_pk, RED)]),
    ([(tic125_b, tic125_b_pk, BLUE), (tic125_r, tic125_r_pk, RED)],
     [(bpc125_b, bpc125_b_pk, BLUE), (bpc125_r, bpc125_r_pk, RED)]),
    ([(tic13_b, tic13_b_pk, BLUE), (tic13_r, tic13_r_pk, RED)],
     [(bpc13_b, bpc13_b_pk, BLUE), (bpc13_r, bpc13_r_pk, RED)]),
    ([(tic16_r, tic16_r_pk, RED)],
     [(bpc16_r, bpc16_r_pk, RED)]),
    ([(tic17_b, tic17_b_pk, BLUE), (tic17_r, tic17_r_pk, RED)],
     [(bpc17_b, bpc17_b_pk, BLUE), (bpc17_r, bpc17_r_pk, RED)]),
    ([(tic18_g, tic18_g_pk, GRAY), (tic18_b, tic18_b_pk, BLUE), (tic18_r, tic18_r_pk, RED)],
     [(bpc18_b, bpc18_b_pk, BLUE), (bpc18_r, bpc18_r_pk, RED)]),
    ([(tic19_b, tic19_b_pk, BLUE), (tic19_r, tic19_r_pk, RED)],
     [(bpc19_b, bpc19_b_pk, BLUE), (bpc19_r, bpc19_r_pk, RED)]),
    ([(tic21_g, tic21_g_pk, GRAY), (tic21_b, tic21_b_pk, BLUE)],
     [(bpc21_g, bpc21_g_pk, GRAY), (bpc21_b, bpc21_b_pk, BLUE)]),
]

W, H = 933, 1445
fig = plt.figure(figsize=(W / 100, H / 100), dpi=100)
fig.patch.set_facecolor("white")

TICK_FS = 3.4
TICK_C = "#555555"


def trace(ax, vals, peaks, color, lw):
    t = np.arange(len(vals))
    ax.plot(t, vals, color=color, lw=lw, alpha=0.85, solid_joinstyle="round")
    if peaks:
        pt, lo, hi = zip(*peaks)
        ax.vlines(pt, lo, hi, color=color, lw=1.1, alpha=0.85)


def style(ax, top, ticks, fmt, minor, xmin, xmax, exponent, last):
    ax.set_xlim(xmin, xmax)
    ax.set_ylim(-0.012 * top, top)
    ax.yaxis.set_major_locator(FixedLocator(ticks))
    ax.yaxis.set_minor_locator(MultipleLocator(minor))
    ax.yaxis.set_major_formatter(FormatStrFormatter(fmt))
    ax.xaxis.set_major_locator(MultipleLocator(10))
    ax.xaxis.set_minor_locator(MultipleLocator(2))
    ax.tick_params(which="both", direction="out", colors="#777777", labelcolor=TICK_C,
                   labelsize=TICK_FS, width=0.5, pad=1)
    ax.tick_params(which="major", length=2.2)
    ax.tick_params(which="minor", length=1.2)
    for s in ax.spines.values():
        s.set_color("#9a9a9a")
        s.set_linewidth(0.8)
    if last:
        ax.set_xticks([0, 10, 20, 30, 40, 50, 60])
        ax.annotate("Time [min]", xy=(61.3, 0), xycoords=("data", "axes fraction"),
                    xytext=(0, -3.3), textcoords="offset points", ha="left", va="top",
                    fontsize=TICK_FS, color=TICK_C)
    else:
        ax.tick_params(axis="x", labelbottom=False)
    ax.text(-0.012, 1.0, "Intens.\nx10$^{%d}$" % exponent, transform=ax.transAxes,
            ha="right", va="top", fontsize=2.9, color=TICK_C, linespacing=1.0)


top0 = 22
period = 118
ax_h = 113
left_axes = []
right_axes = []
for i, (label, (tic, bpc)) in enumerate(zip(samples, rows)):
    y0 = 1 - (top0 + period * i + ax_h) / H
    last = i == len(samples) - 1

    axl = fig.add_axes([33 / W, y0, 429 / W, ax_h / H])
    for vals, pk, col in tic:
        trace(axl, vals, pk, col, 1.6)
    if label == "17":
        style(axl, 1.5, [0, 0.25, 0.5, 0.75, 1.0, 1.25], "%.2f", 0.05, -0.77, 64.9, 8, last)
    else:
        style(axl, 1.2, [0, 0.2, 0.4, 0.6, 0.8, 1.0], "%.1f", 0.05, -0.77, 64.9, 8, last)
    axl.text(0.035, 0.78, label, transform=axl.transAxes, ha="left", va="center",
             fontsize=18, family="Lato", color="#111111")
    left_axes.append(axl)

    axr = fig.add_axes([505 / W, y0, 423 / W, ax_h / H])
    for vals, pk, col in bpc:
        trace(axr, vals, pk, col, 1.4)
    style(axr, 4.15, [0, 1, 2, 3], "%d", 0.2, -0.46, 64.1, 7, last)
    right_axes.append(axr)

left_axes[0].text(0.78, 0.645, "A: TIC", transform=left_axes[0].transAxes, ha="left",
                  va="center", fontsize=21, family="Lato", color="#111111")
right_axes[0].text(0.745, 0.64, "B: BPC", transform=right_axes[0].transAxes, ha="left",
                   va="center", fontsize=21, family="Lato", color="#111111")

# shaded retention window 18-36 min drawn over both columns
for ax in (left_axes[0], right_axes[0]):
    tr = mtransforms.blended_transform_factory(ax.transData, fig.transFigure)
    band = Rectangle((17.7, 0.0), 18.4, 1 - 14 / H, transform=tr, facecolor="#c8c8c8",
                     edgecolor="none", alpha=0.7, zorder=10)
    fig.add_artist(band)

fig.savefig("out.png", dpi=100, facecolor="white")
